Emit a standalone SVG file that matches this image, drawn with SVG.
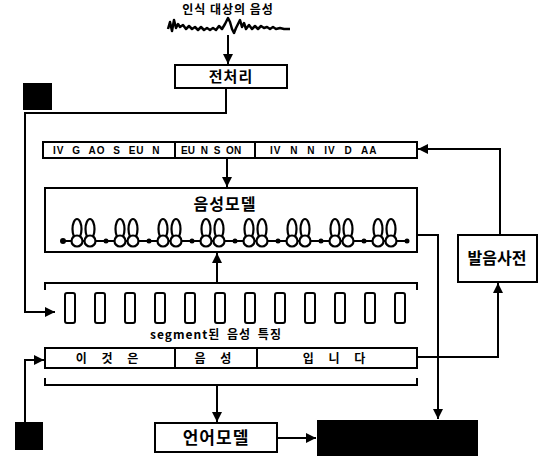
<svg xmlns="http://www.w3.org/2000/svg" width="542" height="456" viewBox="0 0 542 456">
<defs>
<marker id="ah" viewBox="0 0 10 10" refX="10" refY="5" markerWidth="5" markerHeight="5" orient="auto-start-reverse" markerUnits="strokeWidth">
<path d="M0,0 L10,5 L0,10 z" fill="#000"/>
</marker>
<g id="st">
<ellipse cx="0" cy="-12" rx="4.5" ry="10" fill="none" stroke="#000" stroke-width="2.2"/>
<circle cx="0" cy="0" r="5.5" fill="#fff" stroke="#000" stroke-width="2.2"/>
</g>
</defs>
<style>
.box{fill:#fff;stroke:#000;stroke-width:2}
.ln{fill:none;stroke:#000;stroke-width:2}
.ar{fill:none;stroke:#000;stroke-width:2;marker-end:url(#ah)}
.kt{font-family:"Noto Sans CJK KR","Noto Sans",sans-serif;font-weight:bold;fill:#000;text-anchor:middle}
.pt{font-family:"Liberation Sans",Arial,sans-serif;font-weight:bold;font-size:10px;fill:#000}
.fb{fill:#fff;stroke:#000;stroke-width:2}
</style>
<rect width="542" height="456" fill="#fff"/>

<g id="input">
<text class="kt" x="228" y="14" font-size="12" letter-spacing="1">인식 대상의 음성</text>
<path fill="none" stroke="#000" stroke-width="2.5" stroke-linejoin="round" d="M168,29 L170,22 L172,31 L174,20 L176,28 L178,24 L180,27 L183,25 L186,29 L189,26 L192,29 L195,27 L198,30 L201,27 L204,30 L207,28 L210,30 L213,28 L216,30 L219,26 L222,29 L225,24 L228,18 L230,22 L232,29 L234,33 L236,28 L238,24 L240,20 L242,27 L244,23 L246,29 L249,25 L252,29 L255,26 L258,29 L261,26 L264,28 L267,27 L270,29 L273,27 L276,29 L280,28 L284,29 L290,29"/>
</g>

<g id="preprocess">
<rect class="box" x="175" y="65" width="112" height="23"/>
<text class="kt" x="231" y="82" font-size="15" letter-spacing="1">전처리</text>
</g>

<g id="square-top"><rect x="23" y="83" width="29" height="27" fill="#000"/></g>
<g id="square-bottom"><rect x="15" y="422" width="28" height="28" fill="#000"/></g>

<g id="phoneme-bar">
<rect class="box" x="43" y="142" width="374" height="16"/>
<line class="ln" x1="175" y1="142" x2="175" y2="158"/>
<line class="ln" x1="255" y1="142" x2="255" y2="158"/>
<text class="pt" x="53" y="154" letter-spacing="1" word-spacing="4">IV G AO S EU N</text>
<text class="pt" x="181" y="154" word-spacing="3">EU N S ON</text>
<text class="pt" x="270" y="154" letter-spacing="1" word-spacing="5">IV N N IV D AA</text>
</g>

<g id="acoustic-model">
<rect class="box" x="45" y="188" width="372" height="64"/>
<text class="kt" x="225" y="210" font-size="16" letter-spacing="1">음성모델</text>
<line class="ln" x1="63" y1="241" x2="409" y2="241"/>
<circle cx="63" cy="241" r="3" fill="#000"/>
<use href="#st" x="77" y="241"/><use href="#st" x="90" y="241"/><circle cx="106" cy="241" r="2.5" fill="#000"/>
<use href="#st" x="120" y="241"/><use href="#st" x="133" y="241"/><circle cx="149" cy="241" r="2.5" fill="#000"/>
<use href="#st" x="163" y="241"/><use href="#st" x="176" y="241"/><circle cx="192" cy="241" r="2.5" fill="#000"/>
<use href="#st" x="206" y="241"/><use href="#st" x="219" y="241"/><circle cx="235" cy="241" r="2.5" fill="#000"/>
<use href="#st" x="249" y="241"/><use href="#st" x="262" y="241"/><circle cx="278" cy="241" r="2.5" fill="#000"/>
<use href="#st" x="292" y="241"/><use href="#st" x="305" y="241"/><circle cx="321" cy="241" r="2.5" fill="#000"/>
<use href="#st" x="335" y="241"/><use href="#st" x="348" y="241"/><circle cx="364" cy="241" r="2.5" fill="#000"/>
<use href="#st" x="378" y="241"/><use href="#st" x="391" y="241"/><circle cx="407" cy="241" r="2.5" fill="#000"/>
</g>

<g id="features">
<rect class="fb" x="65" y="293" width="10" height="30" rx="2"/>
<rect class="fb" x="95" y="293" width="10" height="30" rx="2"/>
<rect class="fb" x="125" y="293" width="10" height="30" rx="2"/>
<rect class="fb" x="155" y="293" width="10" height="30" rx="2"/>
<rect class="fb" x="185" y="293" width="10" height="30" rx="2"/>
<rect class="fb" x="215" y="293" width="10" height="30" rx="2"/>
<rect class="fb" x="245" y="293" width="10" height="30" rx="2"/>
<rect class="fb" x="275" y="293" width="10" height="30" rx="2"/>
<rect class="fb" x="305" y="293" width="10" height="30" rx="2"/>
<rect class="fb" x="335" y="293" width="10" height="30" rx="2"/>
<rect class="fb" x="365" y="293" width="10" height="30" rx="2"/>
<rect class="fb" x="395" y="293" width="10" height="30" rx="2"/>
<text class="kt" x="216" y="339" font-size="12" letter-spacing="1" word-spacing="3">segment된 음성 특징</text>
</g>

<g id="word-bar">
<rect class="box" x="45" y="348" width="372" height="20"/>
<line class="ln" x1="175" y1="348" x2="175" y2="368"/>
<line class="ln" x1="257" y1="348" x2="257" y2="368"/>
<text class="kt" x="110" y="363" font-size="12" letter-spacing="6">이 것 은</text>
<text class="kt" x="216" y="363" font-size="12" letter-spacing="6">음 성</text>
<text class="kt" x="337" y="363" font-size="12" letter-spacing="6">입 니 다</text>
</g>

<g id="pron-dict">
<rect class="box" x="458" y="235" width="79" height="47"/>
<text class="kt" x="497" y="264" font-size="16">발음사전</text>
</g>

<g id="language-model">
<rect class="box" x="155" y="423" width="122" height="29"/>
<text class="kt" x="216" y="444" font-size="17" letter-spacing="1">언어모델</text>
</g>

<g id="decoder"><rect x="317" y="420" width="161" height="36" fill="#000"/></g>

<g id="connectors">
<line class="ar" x1="228" y1="35" x2="228" y2="64"/>
<polyline class="ar" points="226,88 226,113 25,113 25,312 55,312"/>
<polyline class="ar" points="500,235 500,149 418,149"/>
<line class="ar" x1="227" y1="158" x2="227" y2="187"/>
<polyline class="ln" points="45,290 45,283 417,283 417,290"/>
<line class="ar" x1="217" y1="283" x2="217" y2="253"/>
<polyline class="ar" points="417,235 438,235 438,419"/>
<polyline class="ar" points="417,357 498,357 498,283"/>
<polyline class="ar" points="25,423 25,360 44,360"/>
<polyline class="ln" points="45,378 45,385 417,385 417,378"/>
<line class="ar" x1="217" y1="385" x2="217" y2="422"/>
<line class="ar" x1="277" y1="438" x2="316" y2="438"/>
</g>
</svg>
